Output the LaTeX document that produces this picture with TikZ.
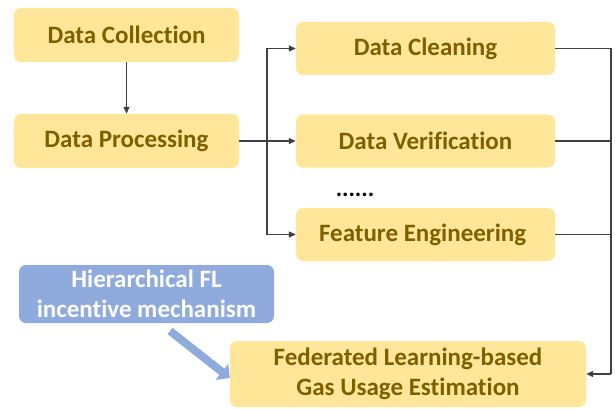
\documentclass[tikz,border=0pt]{standalone}
\usepackage{fontspec}
\setmainfont[Ligatures=CommonOff]{Carlito}
\definecolor{StageFill}{HTML}{FFE699}
\definecolor{StageText}{HTML}{7F6000}
\definecolor{MechFill}{HTML}{8FAADC}
\definecolor{LinkGray}{HTML}{404040}
\usetikzlibrary{arrows.meta, positioning}

\begin{document}
\begin{tikzpicture}[
  x=1pt, y=-1pt,
  stage/.style={rectangle, rounded corners=7pt, fill=StageFill,
                text=StageText, font=\fontsize{25}{30}\selectfont\bfseries,
                align=center, inner sep=0pt},
  mech/.style={stage, fill=MechFill, text=white},
  link/.style={draw=LinkGray, line width=1.3pt,
               -{Triangle[length=7pt, width=6pt]}},
]
\useasboundingbox (0,0) rectangle (615,409);
% left column
\node[stage, minimum width=225pt, minimum height=54pt] (collect) at (126.5,35) {Data Collection};
\node[stage, minimum width=225pt, minimum height=54pt] (process) at (126.5,141) {Data Processing};
% processing steps on the right
\foreach \name/\y/\step in {
  clean/48.5/Data Cleaning,
  verify/141/Data Verification,
  feature/234.5/Feature Engineering
} {
  \node[stage, minimum width=259pt, minimum height=53pt] (\name) at (425.5,\y) {\step};
}
\node[font=\fontsize{24}{24}\selectfont\bfseries, inner sep=0pt] (dots) at (355,195) {......};
% estimation and incentive mechanism
\node[stage, minimum width=356pt, minimum height=66pt] (estim) at (408,374) {Federated Learning-based\\Gas Usage Estimation};
\node[mech, minimum width=255pt, minimum height=58pt] (incent) at (146.5,294) {Hierarchical FL\\incentive mechanism};

\coordinate (split) at (267,141);
\coordinate (merge) at (611,374);

\draw[link] (collect) -- (process);
\draw[draw=LinkGray, line width=1.3pt] (process.east) -- (split);
\foreach \name in {clean, verify, feature}
  \draw[link] (split) |- (\name.west);
\foreach \name in {clean, verify, feature}
  \draw[draw=LinkGray, line width=1.3pt] (\name.east) -| (merge);
\draw[link] (merge) -- (estim.east);
\draw[draw=MechFill, line width=8pt, -{Triangle[length=10pt, width=20pt]}]
  (170,331) -- (estim.west |- 0,378);
\end{tikzpicture}
\end{document}
